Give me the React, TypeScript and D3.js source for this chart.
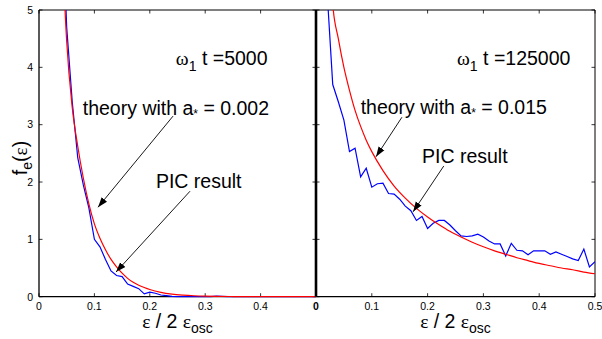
import React from "react";
import * as d3 from "d3";

// ---------- data ----------
const X_TICKS = [0, 0.1, 0.2, 0.3, 0.4, 0.5];
const Y_TICKS = [0, 1, 2, 3, 4, 5];

// left panel (ω1 t = 5000)
const LEFT_THEORY_X = [0.045, 0.047, 0.05, 0.06, 0.07, 0.08, 0.09, 0.1, 0.11, 0.12, 0.13, 0.14, 0.15, 0.16, 0.17, 0.18, 0.19, 0.2, 0.22, 0.24, 0.26, 0.28, 0.3, 0.35, 0.4, 0.45, 0.5];
const LEFT_THEORY_Y = [5.5, 5.0, 4.45, 3.3, 2.62, 2.07, 1.62, 1.27, 1.02, 0.82, 0.65, 0.52, 0.41, 0.32, 0.25, 0.2, 0.16, 0.125, 0.075, 0.045, 0.028, 0.017, 0.01, 0.003, 0.001, 0, 0];
const LEFT_PIC_X = [0.048, 0.05, 0.06, 0.07, 0.08, 0.09, 0.1, 0.11, 0.12, 0.13, 0.14, 0.15, 0.16, 0.17, 0.18, 0.19, 0.2, 0.21, 0.22, 0.23, 0.24, 0.25, 0.26, 0.27, 0.28, 0.29, 0.3, 0.31, 0.32, 0.33, 0.34, 0.35, 0.4, 0.45, 0.5];
const LEFT_PIC_Y = [5.2, 4.7, 3.4, 2.42, 1.95, 1.55, 1.0, 0.87, 0.65, 0.45, 0.37, 0.35, 0.22, 0.18, 0.14, 0.05, 0.08, 0.06, 0.03, 0.02, 0.005, 0, 0, 0, 0, 0, 0, 0, 0.01, 0.005, 0, 0, 0, 0, 0];

// right panel (ω1 t = 125000)
const RIGHT_THEORY_X = [0.028, 0.03, 0.04, 0.05, 0.06, 0.07, 0.08, 0.09, 0.1, 0.12, 0.14, 0.16, 0.18, 0.2, 0.22, 0.24, 0.26, 0.28, 0.3, 0.32, 0.34, 0.36, 0.38, 0.4, 0.42, 0.44, 0.46, 0.48, 0.5];
const RIGHT_THEORY_Y = [5.4, 5.1, 4.5, 4.0, 3.6, 3.25, 2.97, 2.73, 2.53, 2.2, 1.93, 1.72, 1.54, 1.39, 1.26, 1.14, 1.04, 0.95, 0.87, 0.8, 0.74, 0.68, 0.63, 0.58, 0.54, 0.5, 0.47, 0.43, 0.4];
const RIGHT_PIC_X = [0.02, 0.03, 0.04, 0.05, 0.06, 0.07, 0.08, 0.09, 0.1, 0.11, 0.12, 0.13, 0.14, 0.15, 0.16, 0.17, 0.18, 0.19, 0.2, 0.21, 0.22, 0.23, 0.24, 0.25, 0.26, 0.27, 0.28, 0.29, 0.3, 0.31, 0.32, 0.33, 0.34, 0.35, 0.36, 0.37, 0.38, 0.39, 0.4, 0.41, 0.42, 0.43, 0.44, 0.45, 0.46, 0.47, 0.48, 0.49, 0.5];
const RIGHT_PIC_Y = [5.3, 3.7, 3.4, 3.08, 2.53, 2.59, 2.09, 2.24, 1.91, 1.97, 1.98, 1.8, 1.79, 1.7, 1.58, 1.5, 1.33, 1.4, 1.19, 1.28, 1.33, 1.33, 1.25, 1.15, 1.06, 1.05, 1.06, 1.09, 1.04, 0.97, 0.92, 0.92, 0.71, 0.93, 0.81, 0.8, 0.73, 0.8, 0.8, 0.8, 0.74, 0.78, 0.74, 0.7, 0.66, 0.63, 0.83, 0.52, 0.61];

const PANELS = [
  { time: "5000", astar: "0.002", tx: LEFT_THEORY_X, ty: LEFT_THEORY_Y, px: LEFT_PIC_X, py: LEFT_PIC_Y },
  { time: "125000", astar: "0.015", tx: RIGHT_THEORY_X, ty: RIGHT_THEORY_Y, px: RIGHT_PIC_X, py: RIGHT_PIC_Y },
];

// annotation anchors (data coordinates)
const ANNOT = [
  { omega: [0.247, 4.04], theory: [0.079, 3.17], pic: [0.211, 1.9], arrT: [[0.242, 3.15], [0.1065, 1.56]], arrP: [[0.2726, 1.84], [0.139, 0.43]] },
  { omega: [0.2527, 4.04], theory: [0.08, 3.19], pic: [0.19, 2.33], arrT: [[0.154, 3.13], [0.1075, 2.44]], arrP: [[0.229, 2.28], [0.174, 1.48]] },
];

const W = 602, H = 339;
const TOP = 10, BOTTOM = 296.7;
const X_RANGES: [number, number][] = [[39, 316], [316, 595]];
const SANS = "'Liberation Sans', Arial, Helvetica, sans-serif";
const SERIF = "'Liberation Serif', 'Times New Roman', serif";
const FS = 19.5;
const SUB = 14;

export default function App() {
  const y = d3.scaleLinear().domain([0, 5]).range([BOTTOM, TOP]);
  return (
    <svg width={W} height={H} style={{ position: "absolute", left: 0, top: 0, background: "#fff" }}>
      <defs>
        <marker id="ah" markerUnits="userSpaceOnUse" markerWidth={10} markerHeight={8} refX={10} refY={4} orient="auto">
          <path d="M0,0.5 L10,4 L0,7.5 Z" fill="#000" />
        </marker>
        {X_RANGES.map((r, i) => (
          <clipPath id={`clip${i}`} key={i}>
            <rect x={r[0]} y={TOP} width={r[1] - r[0]} height={BOTTOM - TOP + 1} />
          </clipPath>
        ))}
      </defs>
      {PANELS.map((p, i) => {
        const x = d3.scaleLinear().domain([0, 0.5]).range(X_RANGES[i]);
        const line = d3.line<[number, number]>().x((d) => x(d[0])).y((d) => y(d[1]));
        const smooth = d3.line<[number, number]>().x((d) => x(d[0])).y((d) => y(d[1])).curve(d3.curveMonotoneX);
        const theory = p.tx.map((v, k) => [v, p.ty[k]] as [number, number]);
        const pic = p.px.map((v, k) => [v, p.py[k]] as [number, number]);
        const a = ANNOT[i];
        const [x0, x1] = X_RANGES[i];
        const cx = (x0 + x1) / 2;
        return (
          <g key={i}>
            {/* frame */}
            <line x1={x0} x2={x1} y1={TOP} y2={TOP} stroke="#000" strokeWidth={1} />
            <line x1={x0} x2={x1} y1={BOTTOM} y2={BOTTOM} stroke="#000" strokeWidth={1.3} />
            <line x1={x1} x2={x1} y1={TOP} y2={BOTTOM} stroke="#000" strokeWidth={1} />
            <line x1={x0} x2={x0} y1={TOP} y2={BOTTOM} stroke="#000" strokeWidth={i === 0 ? 1.3 : 2.6} />
            {/* ticks */}
            {X_TICKS.map((t) => (
              <g key={`xt${t}`}>
                <line x1={x(t)} x2={x(t)} y1={BOTTOM} y2={BOTTOM - 3.5} stroke="#000" strokeWidth={0.8} />
                <line x1={x(t)} x2={x(t)} y1={TOP} y2={TOP + 3.5} stroke="#000" strokeWidth={0.8} />
              </g>
            ))}
            {Y_TICKS.map((t) => (
              <g key={`yt${t}`}>
                <line x1={x0} x2={x0 + 3.5} y1={y(t)} y2={y(t)} stroke="#000" strokeWidth={0.8} />
                <line x1={x1} x2={x1 - 3.5} y1={y(t)} y2={y(t)} stroke="#000" strokeWidth={0.8} />
              </g>
            ))}
            {/* tick labels */}
            {X_TICKS.filter((t) => !(i === 0 && t === 0.5)).map((t) => (
              <text key={`xl${t}`} x={x(t)} y={310} textAnchor="middle" fontFamily={SANS} fontSize={10.5}
                fontWeight={i === 1 && t === 0 ? "bold" : "normal"} fill="#000">
                {t === 0 ? "0" : String(t)}
              </text>
            ))}
            {i === 0 && Y_TICKS.map((t) => (
              <text key={`yl${t}`} x={33} y={y(t) + 3.8} textAnchor="end" fontFamily={SANS} fontSize={10.5} fill="#000">
                {t}
              </text>
            ))}
            {/* curves */}
            <g clipPath={`url(#clip${i})`}>
              <path d={line(pic) || ""} fill="none" stroke="#0000ff" strokeWidth={1.2} />
              <path d={smooth(theory) || ""} fill="none" stroke="#ff0000" strokeWidth={1.2} />
            </g>
            {/* x label */}
            <text x={cx} y={328} textAnchor="middle" fontFamily={SANS} fontSize={FS} fill="#000">
              <tspan fontFamily={SERIF}>ε</tspan>
              <tspan> / 2 </tspan>
              <tspan fontFamily={SERIF}>ε</tspan>
              <tspan fontSize={SUB} dy={5}>osc</tspan>
            </text>
            {/* annotations */}
            <text x={x(a.omega[0])} y={y(a.omega[1])} fontFamily={SANS} fontSize={FS} fill="#000">
              <tspan fontFamily={SERIF}>ω</tspan>
              <tspan fontSize={SUB} dy={6}>1</tspan>
              <tspan dy={-6}> t ={p.time}</tspan>
            </text>
            <text x={x(a.theory[0])} y={y(a.theory[1])} fontFamily={SANS} fontSize={FS} fill="#000">
              <tspan>theory with a</tspan>
              <tspan fontSize={12} dy={3}>*</tspan>
              <tspan dy={-3}> = {p.astar}</tspan>
            </text>
            <text x={x(a.pic[0])} y={y(a.pic[1])} fontFamily={SANS} fontSize={FS} fill="#000">
              PIC result
            </text>
            <line x1={x(a.arrT[0][0])} y1={y(a.arrT[0][1])} x2={x(a.arrT[1][0])} y2={y(a.arrT[1][1])}
              stroke="#000" strokeWidth={0.9} markerEnd="url(#ah)" />
            <line x1={x(a.arrP[0][0])} y1={y(a.arrP[0][1])} x2={x(a.arrP[1][0])} y2={y(a.arrP[1][1])}
              stroke="#000" strokeWidth={0.9} markerEnd="url(#ah)" />
          </g>
        );
      })}
      {/* y label */}
      <text transform={`translate(27,158) rotate(-90)`} textAnchor="middle" fontFamily={SANS} fontSize={FS} fill="#000">
        <tspan>f</tspan>
        <tspan fontSize={SUB} dy={5}>e</tspan>
        <tspan dy={-5}>(</tspan>
        <tspan fontFamily={SERIF}>ε</tspan>
        <tspan>)</tspan>
      </text>
    </svg>
  );
}
